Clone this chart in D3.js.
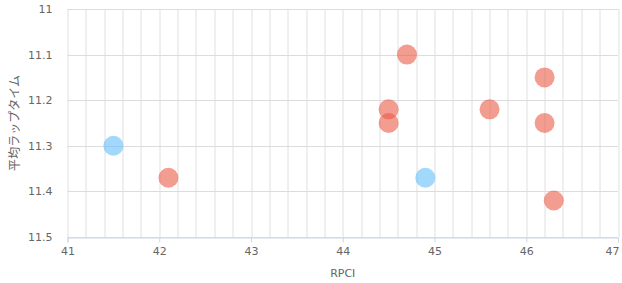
<!DOCTYPE html>
<html>
<head>
<meta charset="utf-8">
<script src="https://cdn.jsdelivr.net/npm/d3@7"></script>
<style>
  body { margin: 0; background: #fff; }
  text { font-family: "DejaVu Sans", Verdana, sans-serif; }
</style>
</head>
<body>
<div id="chart"></div>
<script>
// Donnees
const redX = [42.1, 44.5, 44.5, 44.7, 45.6, 46.2, 46.2, 46.3];
const redY = [11.37, 11.22, 11.25, 11.1, 11.22, 11.15, 11.25, 11.42];
const blueX = [41.5, 44.9];
const blueY = [11.3, 11.37];
const xTicks = [41, 42, 43, 44, 45, 46, 47];
const yTicks = [11, 11.1, 11.2, 11.3, 11.4, 11.5];
const xTitle = "RPCI";
const yTitle = "平均ラップタイム";

const W = 622, H = 283;
const margin = {top: 9, right: 4, bottom: 46, left: 67.5};
const width = W - margin.left - margin.right,
    height = H - margin.top - margin.bottom;

const svg = d3.select("#chart")
    .append("svg")
    .attr("width", W)
    .attr("height", H);

const g = svg.append("g")
    .attr("transform", `translate(${margin.left},${margin.top})`);

const x = d3.scaleLinear().domain([41, 47]).range([0, width]);
const y = d3.scaleLinear().domain([11, 11.5]).range([0, height]);

// grille verticale tous les 0.2
const xMinor = d3.range(0, 31).map(i => 41 + i * 0.2);
g.append("g")
    .selectAll("line")
    .data(xMinor)
    .join("line")
    .attr("x1", d => Math.round(x(d)) + 0.5)
    .attr("x2", d => Math.round(x(d)) + 0.5)
    .attr("y1", 0)
    .attr("y2", height)
    .attr("stroke", "#e0e0e0");

// grille horizontale
g.append("g")
    .selectAll("line")
    .data(yTicks)
    .join("line")
    .attr("x1", 0)
    .attr("x2", width)
    .attr("y1", d => Math.round(y(d)) + 0.5)
    .attr("y2", d => Math.round(y(d)) + 0.5)
    .attr("stroke", "#dcdcdc");

// axe X
const xAxis = g.append("g")
    .attr("transform", `translate(0,${Math.round(height) + 0.5})`)
    .call(d3.axisBottom(x).tickValues(xTicks).tickSize(5).tickPadding(5).tickFormat(d3.format("d")));
xAxis.select(".domain").attr("stroke", "#ccd6eb");
xAxis.selectAll(".tick line").attr("stroke", "#ccd6eb");
xAxis.selectAll("text").attr("fill", "#666").style("font-size", "11px")
    .style("font-family", "'DejaVu Sans', Verdana, sans-serif");
// le dernier label reste dans le cadre
xAxis.selectAll(".tick text").filter(d => d === 47)
    .attr("text-anchor", "end").attr("dx", 1);

// axe Y
const yAxis = g.append("g")
    .call(d3.axisLeft(y).tickValues(yTicks).tickSize(0).tickPadding(15).tickFormat(d => d3.format("")(d)));
yAxis.select(".domain").remove();
yAxis.selectAll("text").attr("fill", "#666").style("font-size", "11px")
    .style("font-family", "'DejaVu Sans', Verdana, sans-serif");

// titres
svg.append("text")
    .attr("x", margin.left + width / 2)
    .attr("y", 277)
    .attr("text-anchor", "middle")
    .attr("fill", "#666")
    .style("font-size", "11px")
    .text(xTitle);

svg.append("text")
    .attr("transform", `translate(19,${margin.top + height / 2}) rotate(-90)`)
    .attr("text-anchor", "middle")
    .attr("fill", "#666")
    .style("font-size", "12px")
    .style("font-family", "'Noto Sans CJK JP', sans-serif")
    .text(yTitle);

// points
const red = redX.map((v, i) => [v, redY[i]]);
const blue = blueX.map((v, i) => [v, blueY[i]]);

g.append("g")
    .selectAll("circle")
    .data(blue)
    .join("circle")
    .attr("cx", d => x(d[0]))
    .attr("cy", d => y(d[1]))
    .attr("r", 10)
    .style("fill", "rgba(100,190,250,0.6)");

g.append("g")
    .selectAll("circle")
    .data(red)
    .join("circle")
    .attr("cx", d => x(d[0]))
    .attr("cy", d => y(d[1]))
    .attr("r", 10)
    .style("fill", "rgba(235,90,70,0.6)");
</script>
</body>
</html>
